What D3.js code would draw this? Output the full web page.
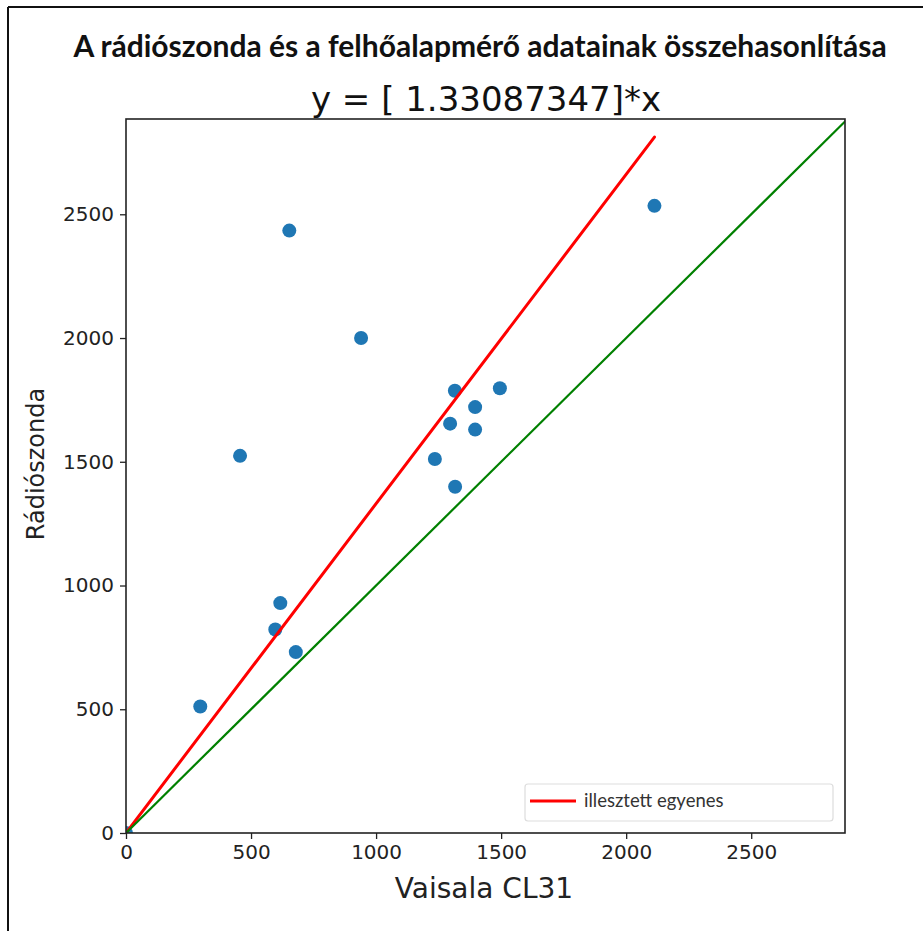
<!DOCTYPE html>
<html>
<head>
<meta charset="utf-8">
<script src="https://cdn.jsdelivr.net/npm/d3@7"></script>
<style>
  html, body { margin: 0; padding: 0; background: #fff; }
  svg { display: block; }
</style>
</head>
<body>
<svg id="chart" width="923" height="931"></svg>
<script>
// Ceilometer (Vaisala CL31) vs. radiosonde cloud-base heights, m
const vaisala = [0, 297, 456, 597, 617, 679, 653, 940, 1235, 1296, 1315, 1316, 1396, 1396, 1495, 2113];
const radiosonde = [0, 511, 1524, 822, 929, 731, 2434, 2000, 1511, 1654, 1787, 1399, 1721, 1630, 1797, 2534];

// Fitted slope of the regression through the origin
const slope = 1.33087347;
const xTicks = [0, 500, 1000, 1500, 2000, 2500];
const yTicks = [0, 500, 1000, 1500, 2000, 2500];
const axisMax = [2875, 2885];

const titleText = "A rádiószonda és a felhőalapmérő adatainak összehasonlítása";
const subtitleText = "y = [ 1.33087347]*x";
const xLabel = "Vaisala CL31";
const yLabel = "Rádiószonda";
const legendLabel = "illesztett egyenes";

const svg = d3.select("#chart");
const W = 923, H = 931;

// outer frame (top and left edges)
svg.append("line").attr("x1", 8).attr("x2", W).attr("y1", 7).attr("y2", 7)
  .attr("stroke", "#111").attr("stroke-width", 2);
svg.append("line").attr("x1", 8).attr("x2", 8).attr("y1", 7).attr("y2", H)
  .attr("stroke", "#111").attr("stroke-width", 2);

const plot = { left: 126, top: 119, right: 845, bottom: 833 };

const x = d3.scaleLinear().domain([0, axisMax[0]]).range([plot.left, plot.right]);
const y = d3.scaleLinear().domain([0, axisMax[1]]).range([plot.bottom, plot.top]);

svg.append("clipPath").attr("id", "plotclip")
  .append("rect").attr("x", plot.left).attr("y", plot.top)
  .attr("width", plot.right - plot.left).attr("height", plot.bottom - plot.top);

const g = svg.append("g").attr("clip-path", "url(#plotclip)");

const pts = vaisala.map((v, i) => [v, radiosonde[i]]);

// measurements
g.selectAll("circle").data(pts).join("circle")
  .attr("cx", d => x(d[0])).attr("cy", d => y(d[1]))
  .attr("r", 7).attr("fill", "#1f77b4");

// fitted line y = slope * x over the measured range
const xMaxData = d3.max(vaisala);
const line = d3.line().x(d => x(d[0])).y(d => y(d[1]));
g.append("path").datum([[0, 0], [xMaxData, slope * xMaxData]])
  .attr("d", line).attr("stroke", "#ff0000").attr("stroke-width", 3)
  .attr("fill", "none").attr("stroke-linecap", "round");

// one-to-one reference line
g.append("path").datum([[0, 0], [3000, 3000]])
  .attr("d", line).attr("stroke", "#008000").attr("stroke-width", 2.2)
  .attr("fill", "none");

// axes
const tickFont = "DejaVu Sans, sans-serif";
const xAxis = svg.append("g").attr("transform", `translate(0,${plot.bottom})`)
  .call(d3.axisBottom(x).tickValues(xTicks).tickFormat(d3.format("d")).tickSize(6).tickPadding(6));
const yAxis = svg.append("g").attr("transform", `translate(${plot.left},0)`)
  .call(d3.axisLeft(y).tickValues(yTicks).tickFormat(d3.format("d")).tickSize(6).tickPadding(6));
[xAxis, yAxis].forEach(a => {
  a.select(".domain").remove();
  a.selectAll(".tick line").attr("stroke", "#222").attr("stroke-width", 1.3);
  a.selectAll(".tick text").attr("font-family", tickFont).attr("font-size", 20).attr("fill", "#222");
});

// plot frame
svg.append("rect").attr("x", plot.left).attr("y", plot.top)
  .attr("width", plot.right - plot.left).attr("height", plot.bottom - plot.top)
  .attr("fill", "none").attr("stroke", "#222").attr("stroke-width", 1.6);

// legend
const lg = svg.append("g");
lg.append("rect").attr("x", 525).attr("y", 784).attr("width", 308).attr("height", 37)
  .attr("rx", 3).attr("fill", "#fff").attr("stroke", "#ddd").attr("stroke-width", 1.2);
lg.append("line").attr("x1", 530).attr("x2", 576).attr("y1", 801).attr("y2", 801)
  .attr("stroke", "#ff0000").attr("stroke-width", 3);
lg.append("text").attr("x", 584).attr("y", 807).text(legendLabel)
  .attr("font-family", "Lato, sans-serif").attr("font-size", 18.5).attr("fill", "#333");

// titles and axis labels
svg.append("text").attr("x", 480).attr("y", 57).attr("text-anchor", "middle")
  .attr("font-family", "Lato, sans-serif").attr("font-weight", "bold").attr("font-size", 30)
  .attr("fill", "#111").text(titleText);
svg.append("text").attr("x", 486).attr("y", 111).attr("text-anchor", "middle")
  .attr("font-family", tickFont).attr("font-size", 34).attr("fill", "#111").text(subtitleText);
svg.append("text").attr("x", 484).attr("y", 898).attr("text-anchor", "middle")
  .attr("font-family", tickFont).attr("font-size", 28).attr("fill", "#222").text(xLabel);
svg.append("text").attr("transform", "translate(44,464) rotate(-90)").attr("text-anchor", "middle")
  .attr("font-family", tickFont).attr("font-size", 24).attr("fill", "#222").text(yLabel);
</script>
</body>
</html>
